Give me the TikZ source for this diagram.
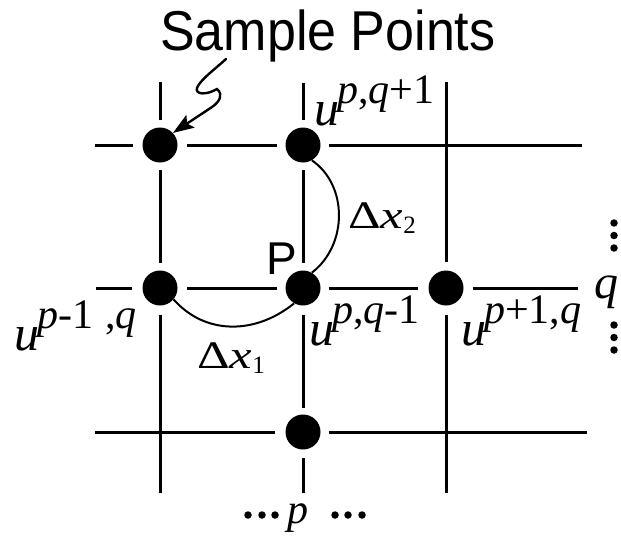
\documentclass[tikz,border=0pt]{standalone}
\usepackage{fontspec}
\setmainfont{Liberation Serif}
\setsansfont{Liberation Sans}
\usetikzlibrary{arrows.meta}
\newcommand\ulab[1]{{\fontsize{50}{50}\selectfont\textit{u}}\hspace{-2pt}\raisebox{22pt}{#1}}
\begin{document}
\begin{tikzpicture}[x=1pt,y=-1pt,
  gridline/.style={line width=3pt},
  distcurve/.style={line width=2pt},
  sample/.style={circle,fill=black,minimum size=35pt,inner sep=0pt},
  edot/.style={circle,fill=black,minimum size=7.5pt,inner sep=0pt},
  lab/.style={anchor=base west,inner sep=0pt,font=\fontsize{42}{42}\selectfont},
  dlab/.style={anchor=base west,inner sep=0pt,font=\fontsize{39}{39}\selectfont},
  sflab/.style={anchor=base west,inner sep=0pt}]
\fill[white] (0,0) rectangle (621,538);
\useasboundingbox (0,0) rectangle (621,538);
% grid lines
\draw[gridline] (95,145) -- (133,145) (187,145) -- (277,145) (329,145) -- (582,145);
\draw[gridline] (96,288) -- (132,288) (187,288) -- (277,288) (329,288) -- (418,288) (473,288) -- (578,288);
\draw[gridline] (95,432) -- (275,432) (329,432) -- (587,432);
\draw[gridline] (160,82) -- (160,120) (160,170) -- (160,263) (160,315) -- (160,493);
\draw[gridline] (303,83) -- (303,120) (303,170) -- (303,263) (303,315) -- (303,408) (303,458) -- (303,493);
\draw[gridline] (446,82) -- (446,262) (446,315) -- (446,493);
% sample points
\node[sample] (d11) at (160,145) {};
\node[sample] (d12) at (303,145) {};
\node[sample] (d21) at (160,288) {};
\node[sample] (d22) at (303,288) {};
\node[sample] (d23) at (446,288) {};
\node[sample] (d32) at (303,432) {};
% distance curves
\draw[distcurve] (d12.-60) .. controls (348,185) and (348,245) .. (d22.60);
\draw[distcurve] (d21.-40) .. controls (205,335) and (255,335) .. (d22.-120);
% title and arrow
\node[sflab,font=\sffamily\fontsize{52}{52}\selectfont] (title) at (160,50) {\scalebox{1}[1.08]{Sample Points}};
\coordinate (sq) at (226,59);
\draw[line width=2.4pt,line cap=round,-{Stealth[length=21pt,width=15pt,inset=4pt]}] (sq) .. controls (214,70) and (200,80) .. (197,88) .. controls (195,95) and (207,95) .. (217,89) .. controls (224,95) and (219,102) .. (212,107) -- (d11.43);
% labels
\node[lab] (l1) at (314,125) {\ulab{\textit{p},\textit{q}+1}};
\node[lab] (l2) at (14,350) {\ulab{\textit{p}-1\hspace{12pt},\textit{q}}};
\node[lab] (l3) at (309,345) {\ulab{\textit{p},\textit{q}-1}};
\node[lab] (l4) at (461,345) {\ulab{\textit{p}+1,\textit{q}}};
\node[lab,font=\fontsize{48}{48}\selectfont] (qr) at (594,298) {\textit{q}};
\node[dlab] (dx2) at (348,228) {\scalebox{1.3}[1]{Δ\textit{x}}\raisebox{-5pt}{\fontsize{25}{25}\selectfont 2}};
\node[dlab] (dx1) at (197,368) {\scalebox{1.3}[1]{Δ\textit{x}}\raisebox{-5pt}{\fontsize{25}{25}\selectfont 1}};
\node[sflab,font=\sffamily\fontsize{46}{46}\selectfont] (P) at (266,274) {P};
\node[lab,font=\fontsize{42}{42}\selectfont] (pb) at (287,523) {\textit{p}};
% ellipsis dots
\foreach \i/\x in {1/248,2/262,3/275,4/335,5/348,6/362}
  \node[edot] (h\i) at (\x,515) {};
\foreach \i/\y in {1/223,2/235.5,3/248,4/325,5/337.5,6/350}
  \node[edot] (v\i) at (614,\y) {};
\end{tikzpicture}
\end{document}
